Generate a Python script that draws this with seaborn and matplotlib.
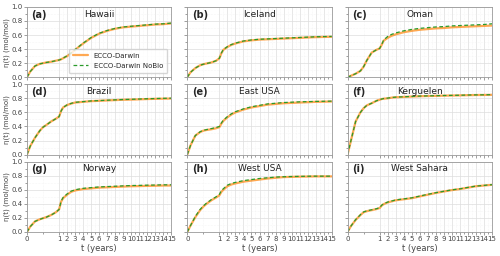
import numpy as np
import pandas as pd
import matplotlib
matplotlib.use("Agg")
import matplotlib.pyplot as plt
import seaborn as sns
from matplotlib.ticker import FixedLocator, MultipleLocator

# time axis (years)
t = [0, 0.1, 0.25, 0.4, 0.5, 0.6, 0.75, 0.9, 1, 1.25, 1.5, 2, 2.5, 3,
     4, 5, 6, 7, 8, 9, 10, 11, 12, 13, 14, 15]

sites = ["Hawaii", "Iceland", "Oman", "Brazil", "East USA", "Kerguelen",
         "Norway", "West USA", "West Sahara"]
panel_tags = ["(a)", "(b)", "(c)", "(d)", "(e)", "(f)", "(g)", "(h)", "(i)"]

hawaii_darwin = [0, 0.08, 0.16, 0.19, 0.20, 0.21, 0.22, 0.235, 0.245, 0.255, 0.27, 0.30, 0.34, 0.39,
                 0.48, 0.56, 0.62, 0.66, 0.69, 0.71, 0.72, 0.73, 0.74, 0.75, 0.755, 0.765]
hawaii_nobio = [0, 0.08, 0.16, 0.19, 0.20, 0.21, 0.22, 0.235, 0.245, 0.255, 0.272, 0.305, 0.345, 0.395,
                0.485, 0.565, 0.625, 0.665, 0.695, 0.715, 0.725, 0.735, 0.745, 0.755, 0.76, 0.77]
iceland_darwin = [0, 0.07, 0.13, 0.17, 0.185, 0.195, 0.21, 0.235, 0.27, 0.34, 0.39, 0.43, 0.46, 0.48,
                  0.51, 0.525, 0.535, 0.54, 0.545, 0.55, 0.555, 0.56, 0.565, 0.57, 0.573, 0.575]
iceland_nobio = [0, 0.07, 0.13, 0.17, 0.185, 0.195, 0.21, 0.235, 0.27, 0.345, 0.395, 0.435, 0.465, 0.485,
                 0.515, 0.53, 0.54, 0.545, 0.55, 0.555, 0.56, 0.565, 0.57, 0.575, 0.578, 0.58]
oman_darwin = [0, 0.02, 0.05, 0.09, 0.15, 0.24, 0.35, 0.39, 0.41, 0.46, 0.52, 0.56, 0.59, 0.61,
               0.64, 0.66, 0.675, 0.685, 0.695, 0.70, 0.71, 0.715, 0.72, 0.725, 0.73, 0.735]
oman_nobio = [0, 0.02, 0.05, 0.09, 0.15, 0.24, 0.35, 0.39, 0.41, 0.465, 0.53, 0.58, 0.61, 0.63,
              0.66, 0.68, 0.695, 0.705, 0.715, 0.72, 0.73, 0.735, 0.74, 0.745, 0.75, 0.76]
brazil_darwin = [0, 0.12, 0.24, 0.34, 0.39, 0.42, 0.47, 0.51, 0.54, 0.62, 0.67, 0.705, 0.725, 0.74,
                 0.75, 0.76, 0.765, 0.77, 0.775, 0.78, 0.782, 0.786, 0.79, 0.793, 0.795, 0.797]
brazil_nobio = [0, 0.12, 0.24, 0.34, 0.39, 0.42, 0.47, 0.51, 0.54, 0.62, 0.67, 0.707, 0.728, 0.743,
                0.753, 0.763, 0.768, 0.773, 0.778, 0.783, 0.786, 0.79, 0.794, 0.797, 0.8, 0.802]
eastusa_darwin = [0, 0.13, 0.27, 0.32, 0.34, 0.35, 0.36, 0.375, 0.39, 0.44, 0.48, 0.53, 0.57, 0.60,
                  0.64, 0.67, 0.69, 0.71, 0.72, 0.73, 0.735, 0.74, 0.745, 0.75, 0.752, 0.755]
eastusa_nobio = [0, 0.13, 0.27, 0.325, 0.345, 0.355, 0.37, 0.385, 0.40, 0.45, 0.49, 0.54, 0.58, 0.61,
                 0.65, 0.68, 0.70, 0.72, 0.73, 0.74, 0.745, 0.75, 0.753, 0.756, 0.758, 0.76]
kerguelen_darwin = [0, 0.19, 0.47, 0.60, 0.66, 0.70, 0.73, 0.765, 0.78, 0.79, 0.795, 0.80, 0.81, 0.815,
                    0.82, 0.825, 0.83, 0.833, 0.835, 0.838, 0.84, 0.842, 0.845, 0.847, 0.848, 0.85]
kerguelen_nobio = [0, 0.19, 0.47, 0.60, 0.66, 0.70, 0.73, 0.765, 0.78, 0.79, 0.797, 0.803, 0.812, 0.817,
                   0.822, 0.827, 0.832, 0.835, 0.837, 0.84, 0.842, 0.844, 0.847, 0.849, 0.85, 0.852]
norway_darwin = [0, 0.075, 0.15, 0.18, 0.195, 0.21, 0.24, 0.28, 0.32, 0.43, 0.48, 0.53, 0.57, 0.59,
                 0.61, 0.62, 0.63, 0.635, 0.64, 0.645, 0.65, 0.652, 0.655, 0.657, 0.66, 0.66]
norway_nobio = [0, 0.075, 0.15, 0.18, 0.195, 0.21, 0.24, 0.28, 0.32, 0.435, 0.49, 0.54, 0.58, 0.60,
                0.62, 0.63, 0.64, 0.645, 0.65, 0.655, 0.66, 0.662, 0.665, 0.667, 0.67, 0.67]
westusa_darwin = [0, 0.09, 0.21, 0.31, 0.36, 0.40, 0.45, 0.49, 0.52, 0.57, 0.60, 0.65, 0.675, 0.69,
                  0.715, 0.73, 0.745, 0.76, 0.77, 0.78, 0.783, 0.786, 0.788, 0.79, 0.79, 0.79]
westusa_nobio = [0, 0.09, 0.22, 0.32, 0.37, 0.41, 0.46, 0.50, 0.535, 0.585, 0.615, 0.665, 0.69, 0.705,
                 0.73, 0.745, 0.76, 0.77, 0.78, 0.785, 0.788, 0.79, 0.792, 0.793, 0.793, 0.793]
westsahara_darwin = [0, 0.08, 0.17, 0.24, 0.28, 0.295, 0.31, 0.325, 0.34, 0.375, 0.395, 0.42, 0.435, 0.45,
                     0.465, 0.48, 0.505, 0.53, 0.555, 0.575, 0.595, 0.61, 0.63, 0.65, 0.66, 0.67]
westsahara_nobio = [0, 0.08, 0.175, 0.245, 0.285, 0.30, 0.315, 0.33, 0.345, 0.38, 0.40, 0.425, 0.44, 0.455,
                    0.47, 0.485, 0.51, 0.535, 0.558, 0.578, 0.598, 0.613, 0.633, 0.652, 0.662, 0.672]

darwin = [hawaii_darwin, iceland_darwin, oman_darwin, brazil_darwin, eastusa_darwin,
          kerguelen_darwin, norway_darwin, westusa_darwin, westsahara_darwin]
nobio = [hawaii_nobio, iceland_nobio, oman_nobio, brazil_nobio, eastusa_nobio,
         kerguelen_nobio, norway_nobio, westusa_nobio, westsahara_nobio]


# first year is stretched 4x on the x axis
def fwd(x):
    x = np.asarray(x, dtype=float)
    return np.where(x < 1, 4 * x, x + 3)


def inv(f):
    f = np.asarray(f, dtype=float)
    return np.where(f < 4, f / 4, f - 3)


sns.set_style("whitegrid")
plt.rcParams["font.family"] = ["DejaVu Sans"]

fig, axes = plt.subplots(3, 3, figsize=(5, 2.56), dpi=100, sharey=True)
fig.subplots_adjust(left=0.054, right=0.984, top=0.973, bottom=0.094,
                    wspace=0.11, hspace=0.1)

for i, ax in enumerate(axes.flat):
    df = pd.DataFrame({"t": t, "darwin": darwin[i], "nobio": nobio[i]})
    sns.lineplot(data=df, x="t", y="darwin", ax=ax, color="#ff8c1a", alpha=0.75,
                 lw=1.6, label="ECCO-Darwin")
    sns.lineplot(data=df, x="t", y="nobio", ax=ax, color="#2a9a2a", lw=0.9,
                 ls=(0, (3, 2)), label="ECCO-Darwin NoBio")

    ax.set_xscale("function", functions=(fwd, inv))
    ax.set_xlim(0, 15)
    ax.set_ylim(0, 1)
    ax.xaxis.set_major_locator(FixedLocator(range(16)))
    ax.xaxis.set_minor_locator(FixedLocator(np.arange(0, 15.01, 0.5)))
    ax.yaxis.set_major_locator(MultipleLocator(0.2))
    ax.yaxis.set_minor_locator(MultipleLocator(0.1))
    ax.grid(which="major", color="#dddddd", lw=0.5)
    ax.grid(which="minor", color="#eeeeee", lw=0.4, ls=":")
    ax.tick_params(which="both", labelsize=5, labelcolor="#444444", length=2,
                   width=0.5, color="#777777", pad=1.2, bottom=True, left=True)
    ax.tick_params(which="minor", length=1.2)
    for s in ax.spines.values():
        s.set_color("#999999")
        s.set_linewidth(0.6)

    ax.text(0.03, 0.96, panel_tags[i], transform=ax.transAxes, ha="left", va="top",
            fontsize=7, fontweight="bold")
    ax.text(0.5, 0.96, sites[i], transform=ax.transAxes, ha="center", va="top",
            fontsize=6.5, color="#222222")

    if i % 3 == 0:
        ax.set_ylabel("η(t) (mol/mol)", fontsize=5, color="#444444", labelpad=1)
    else:
        ax.set_ylabel("")
    if i >= 6:
        ax.set_xlabel("t (years)", fontsize=6, color="#444444", labelpad=1)
        ax.set_xticklabels([str(k) for k in range(16)])
    else:
        ax.set_xlabel("")
        ax.set_xticklabels([])

    if i == 0:
        ax.legend(loc="lower right", fontsize=5, frameon=True, handlelength=2.2,
                  borderpad=0.6, labelspacing=0.6, bbox_to_anchor=(0.995, 0.01))
    else:
        ax.get_legend().remove()

fig.savefig("out.png", dpi=100)
